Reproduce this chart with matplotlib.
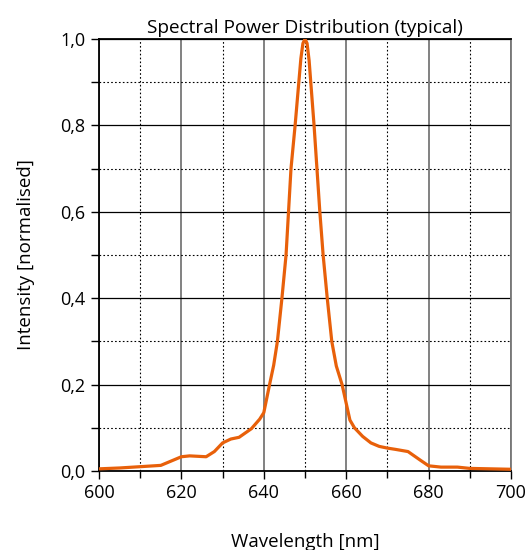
import matplotlib
matplotlib.use("Agg")
import matplotlib.pyplot as plt
from matplotlib.ticker import MultipleLocator, FuncFormatter

plt.rcParams['font.family'] = ['Open Sans', 'DejaVu Sans']

wavelength = [600, 605, 610, 615, 618, 620, 622, 626, 628, 630, 632, 634, 637, 639,
              640, 641.4, 642.4, 643.3, 644.4, 645.4, 646.0, 646.6, 647.6, 648.5, 649.0,
              649.5, 650, 650.5, 651.0, 651.4, 652.2, 652.9, 653.6, 654.4, 655.4, 656.5,
              657.6, 659.0, 660.9, 662, 664, 666, 668, 670, 672, 675, 678, 680, 683,
              687, 690, 695, 700]
intensity = [0.005, 0.007, 0.010, 0.013, 0.025, 0.033, 0.035, 0.033, 0.045, 0.065,
             0.074, 0.078, 0.098, 0.12, 0.135, 0.2, 0.245, 0.3, 0.4, 0.5, 0.6, 0.7,
             0.8, 0.9, 0.955, 0.99, 1.0, 0.99, 0.95, 0.9, 0.8, 0.7, 0.6, 0.5, 0.4, 0.3,
             0.243, 0.2, 0.118, 0.1, 0.08, 0.065, 0.057, 0.053, 0.05, 0.045, 0.025,
             0.012, 0.009, 0.009, 0.006, 0.005, 0.004]

fig = plt.figure(figsize=(5.28, 5.5), dpi=100)
ax = fig.add_axes([99/528, 1 - 471/550, 412/528, 432/550])

ax.plot(wavelength, intensity, color='#E8600A', lw=2.3, zorder=3,
        solid_capstyle='round', solid_joinstyle='round')

ax.set_xlim(600, 700)
ax.set_ylim(0, 1.0)
ax.xaxis.set_major_locator(MultipleLocator(20))
ax.xaxis.set_minor_locator(MultipleLocator(10))
ax.yaxis.set_major_locator(MultipleLocator(0.2))
ax.yaxis.set_minor_locator(MultipleLocator(0.1))
ax.yaxis.set_major_formatter(FuncFormatter(lambda v, p: f"{v:.1f}".replace('.', ',')))

ax.grid(which='major', axis='x', color='#777777', lw=1.3, ls='-')
ax.grid(which='major', axis='y', color='black', lw=0.9, ls='-')
ax.grid(which='minor', color='black', lw=0.8, ls=(0, (1.5, 2)))
ax.set_axisbelow(True)

ax.tick_params(which='both', direction='out', color='black', labelsize=13)
ax.tick_params(which='major', length=6, width=1)
ax.tick_params(which='minor', length=5, width=1)
ax.tick_params(axis='y', which='minor', length=6)
ax.tick_params(axis='y', which='major', length=6, pad=4)

for s in ['left', 'bottom', 'top']:
    ax.spines[s].set_linewidth(1.3)
    ax.spines[s].set_color('black')
ax.spines['right'].set_color('#777777')
ax.spines['right'].set_linewidth(1.3)

ax.set_title("Spectral Power Distribution (typical)", fontsize=13.7, pad=4)
ax.set_xlabel("Wavelength [nm]", fontsize=13.5, labelpad=22)
ax.set_ylabel("Intensity [normalised]", fontsize=13.5, labelpad=18)

fig.savefig("out.png", dpi=100)
